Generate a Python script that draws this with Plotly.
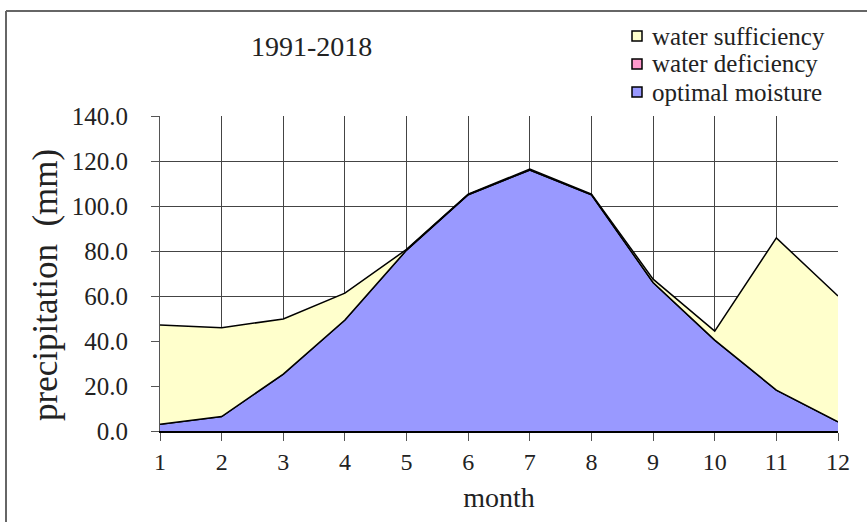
import plotly.graph_objects as go

months = list(range(1, 13))
optimal_moisture = [3.0, 6.4, 25.3, 49.3, 80.4, 105.0, 116.0, 105.0, 66.0, 40.4, 18.2, 4.1]
water_deficiency = [0.0] * 12
water_sufficiency = [44.1, 39.5, 24.5, 12.0, 0.3, 0.3, 0.4, 0.3, 1.5, 4.0, 67.6, 55.9]
y_ticks = [0, 20, 40, 60, 80, 100, 120, 140]
y_tick_labels = ["0.0", "20.0", "40.0", "60.0", "80.0", "100.0", "120.0", "140.0"]
legend_names = ["water sufficiency", "water deficiency", "optimal moisture"]
legend_colors = ["#FFFFCC", "#FF99CC", "#9999FF"]

FONT = "Liberation Serif, Times New Roman, serif"
X0, X1, YT, YB = 160, 838, 116, 431


def px(x):
    return (x - X0) / (X1 - X0)


def py(y):
    return (YB - y) / (YB - YT)


fig = go.Figure()
fig.add_trace(go.Scatter(x=months, y=optimal_moisture, name=legend_names[2], stackgroup="s",
                         mode="lines", line=dict(color="black", width=1.5), fillcolor=legend_colors[2]))
fig.add_trace(go.Scatter(x=months, y=water_deficiency, name=legend_names[1], stackgroup="s",
                         mode="lines", line=dict(color="black", width=1.5), fillcolor=legend_colors[1]))
fig.add_trace(go.Scatter(x=months, y=water_sufficiency, name=legend_names[0], stackgroup="s",
                         mode="lines", line=dict(color="black", width=1.5), fillcolor=legend_colors[0]))

fig.update_layout(
    width=867, height=522,
    margin=dict(l=X0, r=867 - X1, t=YT, b=522 - YB, autoexpand=False),
    paper_bgcolor="white", plot_bgcolor="white",
    font=dict(family=FONT, color="#222", size=24),
    showlegend=False,
    xaxis=dict(range=[1, 12], tickvals=months, showgrid=True, gridcolor="#444", gridwidth=1,
               ticks="outside", ticklen=8, tickcolor="#555", showline=True, linecolor="black",
               linewidth=1.5, zeroline=False, tickfont=dict(size=24, family=FONT), ticklabelstandoff=0,
               title=dict(text="month", font=dict(size=28, family=FONT), standoff=14)),
    yaxis=dict(range=[0, 140], tickvals=y_ticks, ticktext=y_tick_labels, showgrid=True,
               gridcolor="#444", gridwidth=1, ticks="outside", ticklen=8, tickcolor="#555",
               showline=True, linecolor="#555", zeroline=False, tickfont=dict(size=25, family=FONT),
               ticklabelstandoff=18),
)

# y-axis title placed as in the reference (slightly below the axis centre)
fig.add_annotation(text="precipitation  (mm)", x=px(45), y=py(285), xref="paper", yref="paper",
                   xanchor="center", yanchor="middle", textangle=-90, showarrow=False,
                   font=dict(size=35, family=FONT))

fig.add_annotation(text="1991-2018", x=px(311), y=py(47), xref="paper", yref="paper",
                   xanchor="center", yanchor="middle",
                   showarrow=False, font=dict(size=28, family=FONT))

# custom legend
for i, (name, col) in enumerate(zip(legend_names, legend_colors)):
    cy = [36, 64, 92][i]
    fig.add_shape(type="rect", xref="paper", yref="paper", x0=px(632), x1=px(642),
                  y0=py(cy - 5), y1=py(cy + 5), fillcolor=col, line=dict(color="black", width=1.5))
    fig.add_annotation(text=name, x=px(650), y=py(cy), xref="paper", yref="paper", xanchor="left",
                       yanchor="middle", showarrow=False, font=dict(size=25, family=FONT))

# outer frame (top and left edges visible)
fig.add_shape(type="line", xref="paper", yref="paper", x0=px(6), x1=px(870),
              y0=py(11), y1=py(11), line=dict(color="#666", width=2))
fig.add_shape(type="line", xref="paper", yref="paper", x0=px(6), x1=px(6),
              y0=py(11), y1=py(530), line=dict(color="#666", width=2))

fig.write_html("out.html", config={"displayModeBar": False},
               post_script="document.body.style.margin='0';document.body.style.padding='0';")
